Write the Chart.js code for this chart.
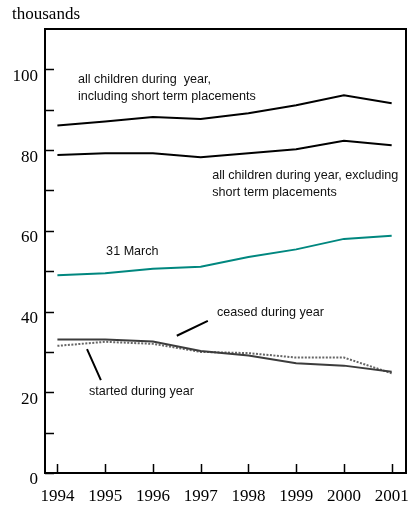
<!DOCTYPE html>
<html>
<head>
<meta charset="utf-8">
<script src="https://cdn.jsdelivr.net/npm/chart.js@4"></script>
<style>
    html, body { margin: 0; padding: 0; background: #fff; }
    #wrap { position: relative; width: 410px; height: 506px; }
</style>
</head>
<body>
<div id="wrap"><canvas id="chart" width="410" height="506"></canvas></div>
<script>
// data (thousands of children)
const years = [1994, 1995, 1996, 1997, 1998, 1999, 2000, 2001];
const allInclShort = [86.1, 87.1, 88.2, 87.7, 89.1, 91.1, 93.6, 91.6];
const allExclShort = [78.8, 79.2, 79.2, 78.2, 79.2, 80.2, 82.3, 81.2];
const at31March = [49.0, 49.5, 50.6, 51.1, 53.5, 55.4, 58.0, 58.8];
const ceased = [33.1, 33.1, 32.6, 30.2, 29.1, 27.2, 26.6, 25.1];
const started = [31.5, 32.5, 32.0, 30.0, 29.7, 28.6, 28.6, 24.7];
const yTicks = [0, 20, 40, 60, 80, 100];
const yMinorTicks = [10, 30, 50, 70, 90];

// text labels placed in data coordinates
const notes = [
    { text: 'all children during  year,', x: 1994.43, y: 97.4 },
    { text: 'including short term placements', x: 1994.43, y: 93.2 },
    { text: 'all children during year, excluding', x: 1997.24, y: 73.6 },
    { text: 'short term placements', x: 1997.24, y: 69.6 },
    { text: '31 March', x: 1995.02, y: 54.8 },
    { text: 'ceased during year', x: 1997.34, y: 39.7 },
    { text: 'started during year', x: 1994.66, y: 20.1 }
];
const leaders = [
    { x1: 1996.50, y1: 34.0, x2: 1997.15, y2: 37.7 },
    { x1: 1994.62, y1: 30.7, x2: 1994.91, y2: 23.0 }
];

const toPoints = arr => arr.map((v, i) => ({ x: years[i], y: v }));

// frame, inner tick marks, notes
const framePlugin = {
    id: 'frame',
    afterDraw(chart) {
        const { ctx, chartArea: a, scales: { x, y } } = chart;
        ctx.save();
        ctx.strokeStyle = '#000';
        ctx.lineWidth = 2;
        ctx.strokeRect(a.left, a.top, a.right - a.left, a.bottom - a.top);

        ctx.lineWidth = 1.5;
        ctx.beginPath();
        years.forEach(v => {
            const px = Math.round(x.getPixelForValue(v)) + 0.5;
            ctx.moveTo(px, a.bottom);
            ctx.lineTo(px, a.bottom - 9);
        });
        yTicks.concat(yMinorTicks).forEach(v => {
            const py = Math.round(y.getPixelForValue(v)) + 0.5;
            ctx.moveTo(a.left, py);
            ctx.lineTo(a.left + 9, py);
        });
        ctx.stroke();

        ctx.fillStyle = '#000';
        ctx.font = '17px "Liberation Serif", "Times New Roman", serif';
        ctx.textAlign = 'left';
        ctx.textBaseline = 'alphabetic';
        ctx.fillText('thousands', 12, 19);

        ctx.fillStyle = '#111';
        ctx.font = '12.6px "Liberation Sans", Arial, sans-serif';
        ctx.textBaseline = 'middle';
        notes.forEach(n => {
            ctx.fillText(n.text, x.getPixelForValue(n.x), y.getPixelForValue(n.y));
        });

        ctx.strokeStyle = '#000';
        ctx.lineWidth = 2;
        ctx.beginPath();
        leaders.forEach(l => {
            ctx.moveTo(x.getPixelForValue(l.x1), y.getPixelForValue(l.y1));
            ctx.lineTo(x.getPixelForValue(l.x2), y.getPixelForValue(l.y2));
        });
        ctx.stroke();
        ctx.restore();
    }
};

const line = (label, data, color, extra = {}) => Object.assign({
    label: label,
    data: toPoints(data),
    borderColor: color,
    borderWidth: 2,
    pointRadius: 0,
    tension: 0,
    fill: false
}, extra);

new Chart(document.getElementById('chart'), {
    type: 'line',
    data: {
        datasets: [
            line('all children during year, including short term placements', allInclShort, '#000'),
            line('all children during year, excluding short term placements', allExclShort, '#000'),
            line('31 March', at31March, '#00877f'),
            line('ceased during year', ceased, '#3c3c3c'),
            line('started during year', started, '#666', { borderDash: [2, 1.5], borderWidth: 2 })
        ]
    },
    options: {
        responsive: false,
        animation: false,
        layout: { padding: { top: 29, right: 4, left: 0, bottom: 0 } },
        plugins: { legend: { display: false }, tooltip: { enabled: false } },
        scales: {
            x: {
                type: 'linear',
                min: 1993.74,
                max: 2001.3,
                grid: { display: false, drawTicks: false },
                border: { display: false },
                afterBuildTicks: s => { s.ticks = years.map(v => ({ value: v })); },
                afterFit: s => {
                    s.height = 33;
                    s.paddingLeft = 0;
                    s.paddingRight = 0;
                },
                ticks: {
                    padding: 13,
                    color: '#000',
                    maxRotation: 0,
                    autoSkip: false,
                    font: { family: '"Liberation Serif", "Times New Roman", serif', size: 17 },
                    callback: v => String(v)
                }
            },
            y: {
                min: 0,
                max: 110,
                grid: { display: false, drawTicks: false },
                border: { display: false },
                afterBuildTicks: s => { s.ticks = yTicks.map(v => ({ value: v })); },
                afterFit: s => {
                    s.width = 45;
                    s.paddingTop = 0;
                    s.paddingBottom = 0;
                },
                ticks: {
                    padding: 7,
                    labelOffset: 7,
                    color: '#000',
                    font: { family: '"Liberation Serif", "Times New Roman", serif', size: 17 }
                }
            }
        }
    },
    plugins: [framePlugin]
});
</script>
</body>
</html>
